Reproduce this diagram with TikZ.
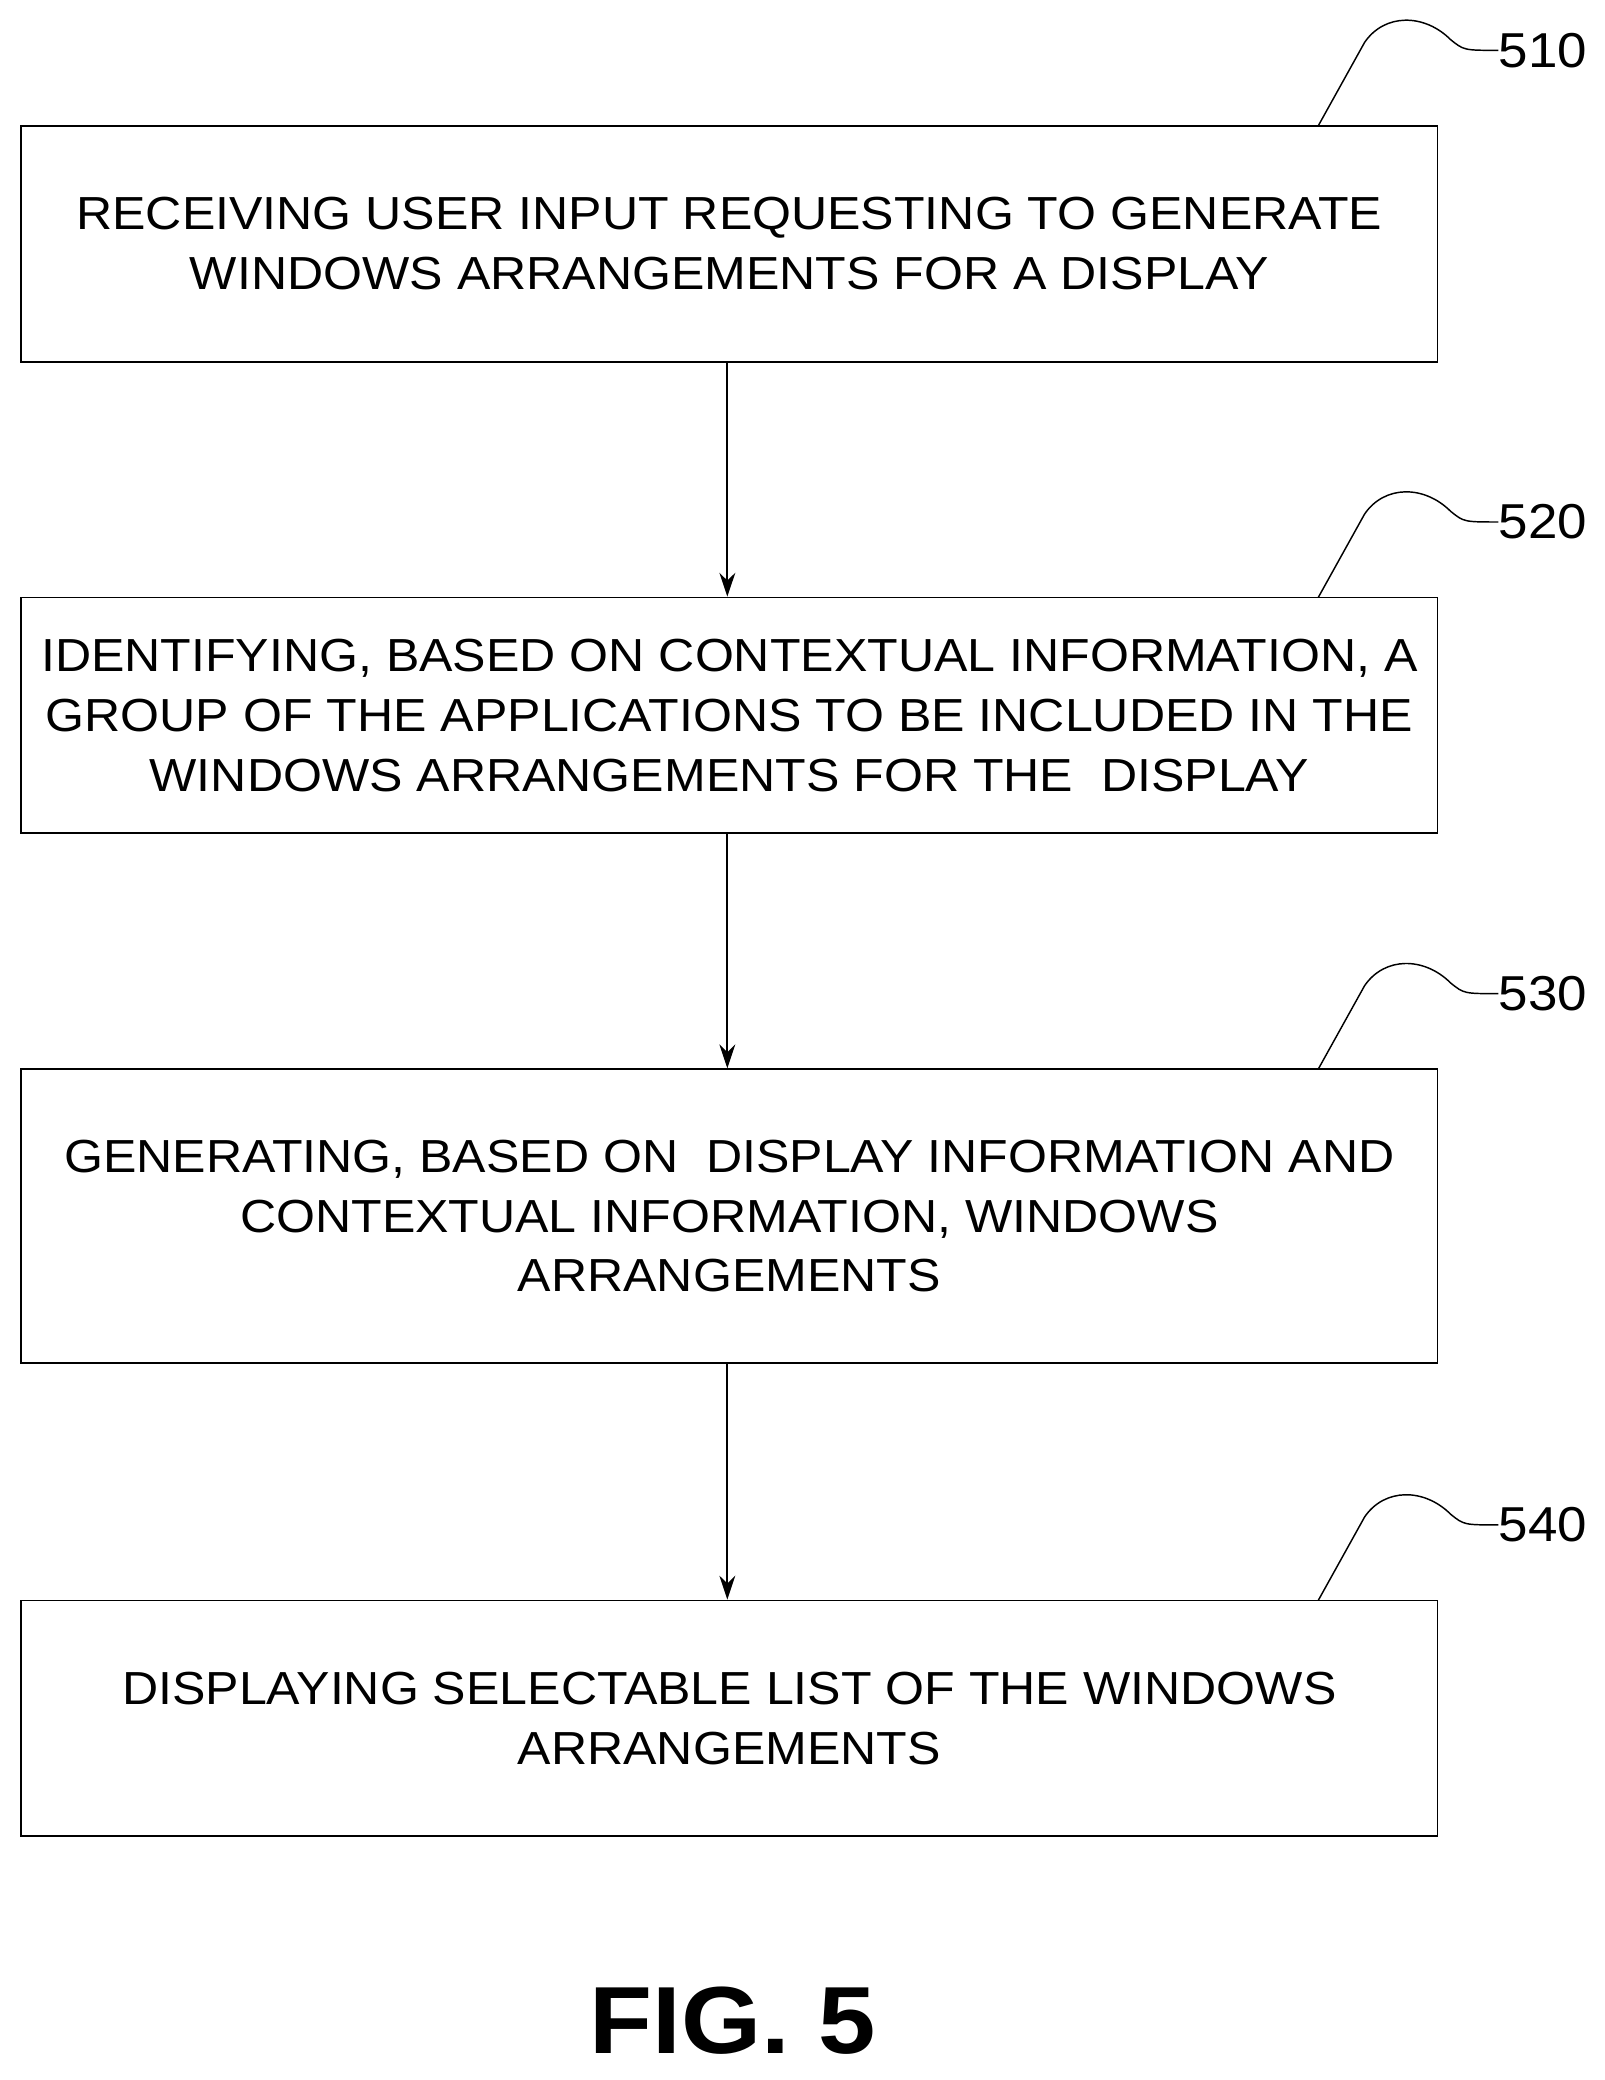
\documentclass[tikz,border=0pt]{standalone}
\usepackage{fontspec}
\usetikzlibrary{arrows.meta}
\setmainfont[FakeStretch=1.08]{Liberation Sans}
\begin{document}
\begin{tikzpicture}[x=1pt,y=-1pt,
  box/.style={draw,line width=1.3pt,minimum width=1069pt,align=center,font=\fontsize{35}{45}\selectfont,inner sep=0pt},
  arr/.style={-{Stealth[length=18pt,width=12pt]},line width=1.3pt},
  lab/.style={font=\fontsize{37}{40}\selectfont,anchor=west,inner sep=0pt}]
\useasboundingbox (0,0) rectangle (1211,1570);
\node[box,minimum height=178pt] (b1) at (550.5,184) {RECEIVING USER INPUT REQUESTING TO GENERATE\\WINDOWS ARRANGEMENTS FOR A DISPLAY};
\node[box,minimum height=178pt] (b2) at (550.5,540) {IDENTIFYING, BASED ON CONTEXTUAL INFORMATION, A\\GROUP OF THE APPLICATIONS TO BE INCLUDED IN THE\\WINDOWS ARRANGEMENTS FOR THE\ \ DISPLAY};
\node[box,minimum height=222pt] (b3) at (550.5,918) {GENERATING, BASED ON\ \ DISPLAY INFORMATION AND\\CONTEXTUAL INFORMATION, WINDOWS\\ARRANGEMENTS};
\node[box,minimum height=178pt] (b4) at (550.5,1297) {DISPLAYING SELECTABLE LIST OF THE WINDOWS\\ARRANGEMENTS};
\draw[arr] (b1.south -| 549,0) -- (b2.north -| 549,0);
\draw[arr] (b2.south -| 549,0) -- (b3.north -| 549,0);
\draw[arr] (b3.south -| 549,0) -- (b4.north -| 549,0);
\foreach \n/\b/\y in {510/b1/95,520/b2/451,530/b3/807,540/b4/1208}{
  \node[lab] (l\n) at (1131,\y-57) {\n};
  \draw[line width=1.1pt] (995,\y) -- (1030,\y-63) .. controls (1045,\y-85) and (1075,\y-85) .. (1095,\y-65) .. controls (1105,\y-57) .. (l\n.west);
}
\node[font=\bfseries\fontsize{72}{80}\selectfont] (fig) at (553,1525) {FIG. 5};
\end{tikzpicture}
\end{document}
